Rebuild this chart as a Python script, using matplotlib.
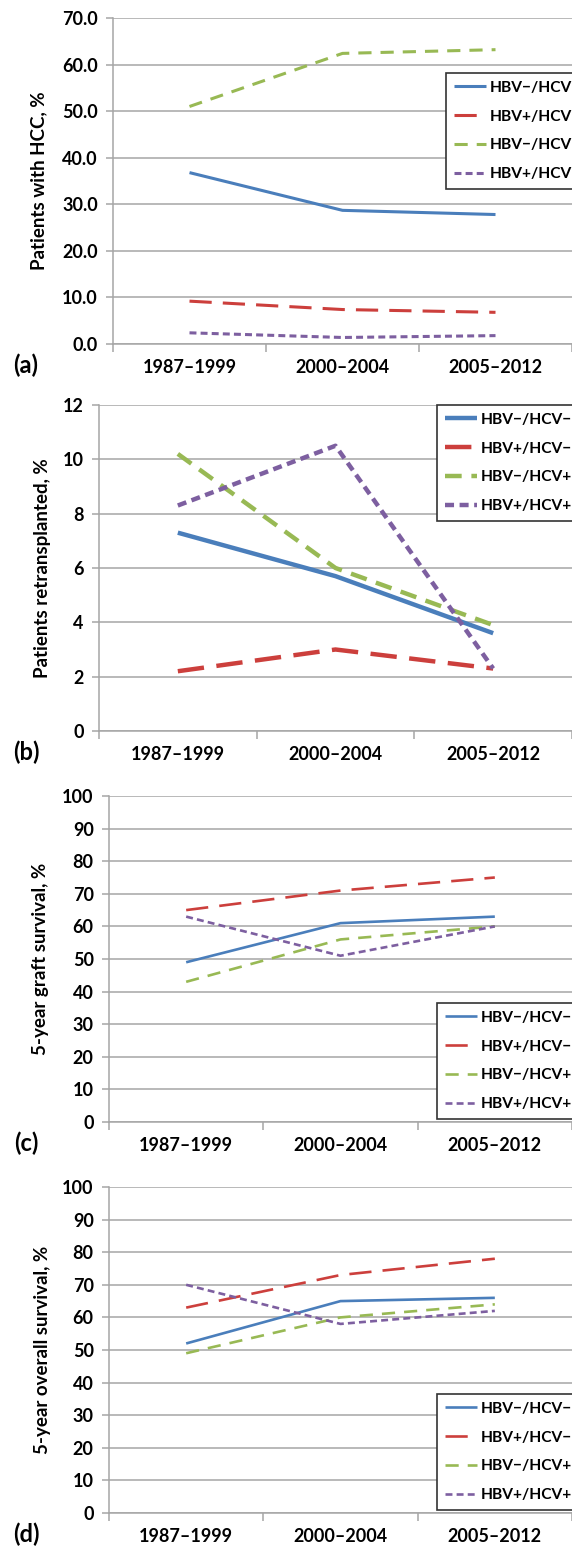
import matplotlib as mpl
mpl.use("Agg")
import matplotlib.pyplot as plt
import numpy as np

mpl.rcParams["font.family"] = ["Lato", "DejaVu Sans"]
mpl.rcParams["font.weight"] = "bold"
mpl.rcParams["lines.scale_dashes"] = False

periods = ["1987\u20131999", "2000\u20132004", "2005\u20132012"]
groups = ["HBV\u2212/HCV\u2212", "HBV+/HCV\u2212", "HBV\u2212/HCV+", "HBV+/HCV+"]

# panel (a) patients with HCC
hcc_neg_neg = [36.8, 28.7, 27.8]
hcc_pos_neg = [9.2, 7.4, 6.8]
hcc_neg_pos = [51.0, 62.4, 63.2]
hcc_pos_pos = [2.4, 1.4, 1.8]

# panel (b) retransplanted
rtx_neg_neg = [7.3, 5.7, 3.6]
rtx_pos_neg = [2.2, 3.0, 2.3]
rtx_neg_pos = [10.2, 6.0, 3.9]
rtx_pos_pos = [8.3, 10.5, 2.3]

# panel (c) 5-year graft survival
gft_neg_neg = [49, 61, 63]
gft_pos_neg = [65, 71, 75]
gft_neg_pos = [43, 56, 60]
gft_pos_pos = [63, 51, 60]

# panel (d) 5-year overall survival
ovs_neg_neg = [52, 65, 66]
ovs_pos_neg = [63, 73, 78]
ovs_neg_pos = [49, 60, 64]
ovs_pos_pos = [70, 58, 62]

COLS = ['#4a7ebb', '#cc3f3c', '#98b954', '#7d5fa0']
FS = 13
GRID = '#a6a6a6'

W, H = 572, 1548
fig = plt.figure(figsize=(W / 100, H / 100), dpi=100)

# pixel layout: axes left/top/bottom, legend left/top, ylabel x
panels = [
    dict(series=[hcc_neg_neg, hcc_pos_neg, hcc_neg_pos, hcc_pos_pos], ylab='Patients with HCC, %',
         ymax=70, step=10, fmt='%.1f', left=113, top=18, bot=344,
         lx=446, ly=73, yl=47, tag='(a)', lw=2.2, big=False),
    dict(series=[rtx_neg_neg, rtx_pos_neg, rtx_neg_pos, rtx_pos_pos], ylab='Patients retransplanted, %',
         ymax=12, step=2, fmt='%d', left=99, top=405, bot=731,
         lx=437, ly=405, yl=51, tag='(b)', lw=3.2, big=True),
    dict(series=[gft_neg_neg, gft_pos_neg, gft_neg_pos, gft_pos_pos], ylab='5-year graft survival, %',
         ymax=100, step=10, fmt='%d', left=109, top=796, bot=1122,
         lx=437, ly=1003, yl=49, tag='(c)', lw=1.9, big=False),
    dict(series=[ovs_neg_neg, ovs_pos_neg, ovs_neg_pos, ovs_pos_pos], ylab='5-year overall survival, %',
         ymax=100, step=10, fmt='%d', left=109, top=1187, bot=1513,
         lx=437, ly=1394, yl=51, tag='(d)', lw=1.9, big=False),
]

x = np.arange(len(periods))

for p in panels:
    width = W - p['left']
    ax = fig.add_axes([p['left'] / W, 1 - p['bot'] / H, width / W, (p['bot'] - p['top']) / H])
    if p['big']:
        dashes = [None, (19, 9), (12, 7), (6.5, 4)]
    else:
        dashes = [None, (16, 8), (9.5, 6.5), (5, 3)]
    for i, s in enumerate(p['series']):
        ln, = ax.plot(x, s, color=COLS[i], lw=p['lw'], label=groups[i], solid_capstyle='butt',
                      dash_capstyle='butt', clip_on=False, zorder=3)
        if dashes[i] is not None:
            ln.set_dashes(dashes[i])

    ax.set_ylim(0, p['ymax'])
    ax.set_xlim(-0.5, 2.5)
    ax.set_yticks(np.arange(0, p['ymax'] + 0.01, p['step']))
    ax.yaxis.set_major_formatter(mpl.ticker.FormatStrFormatter(p['fmt']))
    ax.grid(axis='y', color=GRID, lw=1.1)
    ax.set_axisbelow(True)

    ax.set_xticks([-0.5, 0.5, 1.5, 2.5])
    ax.set_xticklabels([])
    ax.set_xticks(x, minor=True)
    ax.set_xticklabels(periods, minor=True)
    ax.tick_params(axis='x', which='major', length=6, color=GRID, width=1.1, direction='out')
    ax.tick_params(axis='x', which='minor', length=0, pad=11, labelsize=FS)
    ax.tick_params(axis='y', length=5, color=GRID, width=1.1, pad=6, labelsize=FS)

    for side in ['top', 'right']:
        ax.spines[side].set_visible(False)
    for side in ['left', 'bottom']:
        ax.spines[side].set_color(GRID)
        ax.spines[side].set_linewidth(1.1)

    ax.set_ylabel(p['ylab'], fontsize=13.5, fontweight='bold')
    ax.yaxis.set_label_coords((p['yl'] - p['left']) / width, 0.5)

    leg = ax.legend(loc='upper left', bbox_to_anchor=(p['lx'] / W, 1 - p['ly'] / H),
                    bbox_transform=fig.transFigure, borderaxespad=0, frameon=True,
                    fancybox=False, edgecolor='#333333', framealpha=1, fontsize=11.2,
                    handlelength=2.1, handletextpad=0.2, labelspacing=0.95,
                    borderpad=0.5)
    leg.get_frame().set_linewidth(1.2)

    fig.text(26 / W, 1 - (p['bot'] + 21) / H, p['tag'], fontsize=17, fontweight='bold',
             ha='center', va='center')

fig.savefig('out.png', dpi=100)
